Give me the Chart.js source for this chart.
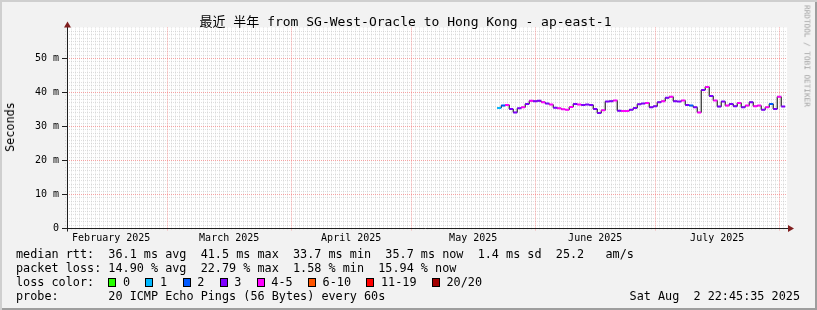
<!DOCTYPE html>
<html lang="zh">
<head>
<meta charset="utf-8">
<title>最近 半年 from SG-West-Oracle to Hong Kong - ap-east-1</title>
<script src="https://cdn.jsdelivr.net/npm/chart.js@4.4.1/dist/chart.umd.min.js"></script>
<style>
  body { margin: 0; background: #fff; }
  #frame {
    position: relative; width: 817px; height: 310px; overflow: hidden;
    background: #f2f2f2; color: #000;
    box-shadow: inset 2px 2px 0 #cfcfcf, inset -2px -2px 0 #9e9e9e;
    font-family: "DejaVu Sans Mono", monospace;
  }
  #chart { position: absolute; left: 0; top: 0; }
  .title {
    position: absolute; left: -3px; top: 14px; width: 817px; text-align: center;
    font: 13px/16px "DejaVu Sans Mono", "Noto Sans CJK SC", monospace; white-space: pre;
  }
  .vlabel {
    position: absolute; left: 10px; top: 127px; white-space: pre;
    font-size: 11.8px; line-height: 14px;
    transform: translate(-50%, -50%) rotate(-90deg);
  }
  .mark {
    position: absolute; left: 807px; top: 56px; white-space: pre; color: #a2a2a2;
    font-size: 7.7px; line-height: 9px;
    transform: translate(-50%, -50%) rotate(90deg);
  }
  .leg {
    position: absolute; left: 16px; white-space: pre;
    font-size: 11.8px; line-height: 14px;
  }
  .box {
    display: inline-block; width: 8px; height: 9px; box-sizing: border-box;
    border: 1px solid #000; vertical-align: -1px; margin-right: 6.6px;
  }
  .bin { padding-right: 15.4px; }
  .stamp { position: absolute; right: 17px; top: 289px; white-space: pre; font-size: 11.8px; line-height: 14px; }
</style>
</head>
<body>
<div id="frame">
  <canvas id="chart" width="817" height="310"></canvas>
  <div class="title">最近 半年 from SG-West-Oracle to Hong Kong - ap-east-1</div>
  <div class="vlabel">Seconds</div>
  <div class="mark">RRDTOOL / TOBI OETIKER</div>
  <div class="leg" style="top:247px">median rtt:  36.1 ms avg  41.5 ms max  33.7 ms min  35.7 ms now  1.4 ms sd  25.2   am/s</div>
  <div class="leg" style="top:261px">packet loss: 14.90 % avg  22.79 % max  1.58 % min  15.94 % now</div>
  <div class="leg" id="losslegend" style="top:275px">loss color:  </div>
  <div class="leg" style="top:289px">probe:       20 ICMP Echo Pings (56 Bytes) every 60s</div>
  <div class="stamp">Sat Aug  2 22:45:35 2025</div>
</div>
<script>
// graph window: last 180 days up to the render time
const rangeStart = '2025-02-03T22:45:35';
const rangeEnd = '2025-08-02T22:45:35';

const monthStarts = ['2025-02-01', '2025-03-01', '2025-04-01', '2025-05-01', '2025-06-01', '2025-07-01', '2025-08-01'];
const monthLabels = ['February 2025', 'March 2025', 'April 2025', 'May 2025', 'June 2025', 'July 2025'];

const yTicks = [0, 10, 20, 30, 40, 50];
const yMax = 59;

// median rtt (ms), one step per day starting at seriesStart
const seriesStart = '2025-05-22T12:00:00';
const medianMs = [
  35.3, 36.0, 36.2, 35.0, 34.0, 35.2, 35.5, 36.5, 37.4, 37.3,
  37.4, 37.0, 36.6, 36.3, 35.4, 35.2, 34.9, 34.8, 35.6, 36.5,
  36.3, 36.2, 36.3, 36.2, 35.0, 33.8, 34.6, 37.2, 37.3, 37.5,
  34.5, 34.4, 34.4, 34.8, 35.3, 36.4, 36.6, 36.8, 35.5, 35.8,
  37.0, 37.3, 38.3, 38.6, 37.3, 37.2, 37.5, 36.2, 36.0, 35.5,
  34.0, 40.6, 41.5, 38.8, 37.5, 35.7, 37.2, 36.0, 36.5, 35.8,
  36.8, 35.5, 36.0, 37.0, 35.8, 36.0, 34.8, 35.5, 36.5, 35.0,
  38.6, 35.7
];
// lost pings out of 20 for each step
const lossPings = [
  1, 2, 4, 3, 3, 3, 4, 3, 4, 3,
  3, 4, 3, 4, 3, 4, 4, 4, 4, 3,
  4, 3, 3, 3, 3, 3, 4, 3, 3, 4,
  3, 4, 4, 3, 3, 3, 3, 4, 3, 3,
  3, 4, 3, 4, 3, 3, 4, 3, 2, 3,
  4, 3, 4, 3, 4, 3, 3, 4, 3, 3,
  4, 3, 4, 3, 4, 4, 3, 4, 2, 3,
  4, 3
];

const lossBins = ['0', '1', '2', '3', '4-5', '6-10', '11-19', '20/20'];
const lossBinMax = [0, 1, 2, 3, 5, 10, 19, 20];
const lossColors = ['#26ff00', '#00b8ff', '#0059ff', '#7e00ff', '#ff00ff', '#ff5500', '#ff0000', '#a10000'];

const DAY = 86400000;
const t0 = Date.parse('2025-02-01T00:00:00Z');
function day(s) { return (Date.parse(s + (s.length > 10 ? 'Z' : 'T00:00:00Z')) - t0) / DAY; }
function lossColor(n) {
  for (let i = 0; i < lossBinMax.length; i++) if (n <= lossBinMax[i]) return lossColors[i];
  return lossColors[lossColors.length - 1];
}

// legend boxes
const ll = document.getElementById('losslegend');
lossBins.forEach((b, i) => {
  const box = document.createElement('span');
  box.className = 'box';
  box.style.background = lossColors[i];
  const t = document.createElement('span');
  t.className = 'bin';
  t.textContent = b;
  ll.appendChild(box);
  ll.appendChild(t);
});

const xMin = day(rangeStart), xMax = day(rangeEnd);
const monthDays = monthStarts.map(day);
const monthMids = monthLabels.map((_, i) => (monthDays[i] + monthDays[i + 1]) / 2);
const s0 = day(seriesStart);

const stepLine = medianMs.map((v, i) => ({ x: s0 + i, y: v }));
const stepMarks = medianMs.map((v, i) => ({ x: s0 + i + 0.5, y: v }));

const rrdGrid = {
  id: 'rrdGrid',
  beforeDraw(chart) {
    const { ctx, chartArea: a } = chart;
    ctx.save();
    ctx.fillStyle = '#fff';
    ctx.fillRect(a.left, a.top, a.right - a.left, a.bottom - a.top);
    ctx.restore();
  },
  beforeDatasetsDraw(chart) {
    const { ctx, chartArea: a, scales: { x, y } } = chart;
    const seg = (x1, y1, x2, y2) => { ctx.beginPath(); ctx.moveTo(x1, y1); ctx.lineTo(x2, y2); ctx.stroke(); };
    ctx.save();
    ctx.lineWidth = 1;
    ctx.setLineDash([1, 1]);
    // minor grid: every day, every ms
    ctx.strokeStyle = 'rgba(143,143,143,0.28)';
    for (let d = Math.ceil(xMin); d <= xMax; d++) {
      if (monthDays.includes(d)) continue;
      const px = Math.round(x.getPixelForValue(d)) + 0.5;
      seg(px, a.top, px, a.bottom + 2);
    }
    for (let v = 1; v < yMax; v++) {
      if (yTicks.includes(v)) continue;
      const py = Math.round(y.getPixelForValue(v)) + 0.5;
      seg(a.left - 2, py, a.right, py);
    }
    // major grid
    ctx.strokeStyle = 'rgba(240,90,90,0.55)';
    monthDays.forEach(d => {
      if (d < xMin || d > xMax) return;
      const px = Math.round(x.getPixelForValue(d)) + 0.5;
      seg(px, a.top, px, a.bottom + 3);
    });
    yTicks.forEach(v => {
      if (v === 0) return;
      const py = Math.round(y.getPixelForValue(v)) + 0.5;
      seg(a.left, py, a.right, py);
    });
    ctx.setLineDash([]);
    ctx.strokeStyle = '#1f1f1f';
    yTicks.forEach(v => {
      const py = Math.round(y.getPixelForValue(v)) + 0.5;
      seg(a.left - 5, py, a.left, py);
    });
    ctx.restore();
  },
  afterDatasetsDraw(chart) {
    const { ctx, chartArea: a } = chart;
    const ax = Math.round(a.left) + 0.5, ay = Math.round(a.bottom) + 0.5;
    ctx.save();
    ctx.strokeStyle = '#1f1f1f';
    ctx.lineWidth = 1;
    ctx.beginPath();
    ctx.moveTo(ax, ay + 3); ctx.lineTo(ax, a.top - 1);
    ctx.moveTo(ax - 5, ay); ctx.lineTo(a.right + 1, ay);
    ctx.stroke();
    ctx.fillStyle = '#801f1f';
    ctx.beginPath();
    ctx.moveTo(ax - 3.5, a.top); ctx.lineTo(ax + 3.5, a.top); ctx.lineTo(ax, a.top - 6); ctx.closePath();
    ctx.fill();
    ctx.beginPath();
    ctx.moveTo(a.right + 1, ay - 3.5); ctx.lineTo(a.right + 1, ay + 3.5); ctx.lineTo(a.right + 7, ay); ctx.closePath();
    ctx.fill();
    ctx.restore();
  }
};

new Chart(document.getElementById('chart'), {
  type: 'line',
  data: {
    datasets: [
      {
        data: stepMarks,
        showLine: false,
        pointStyle: 'line',
        pointRadius: 2,
        pointBorderWidth: 2,
        pointBorderColor: lossPings.map(lossColor),
        order: 0
      },
      {
        data: stepLine,
        stepped: 'before',
        borderColor: '#000',
        borderWidth: 1,
        pointRadius: 0,
        order: 1
      }
    ]
  },
  options: {
    responsive: false,
    animation: false,
    devicePixelRatio: 1,
    layout: { padding: { left: 0, top: 27.4, right: 30, bottom: 62 } },
    plugins: { legend: { display: false }, tooltip: { enabled: false }, title: { display: false } },
    scales: {
      x: {
        type: 'linear',
        min: xMin,
        max: xMax,
        grid: { display: false, drawTicks: false },
        border: { display: false },
        afterBuildTicks: s => { s.ticks = monthMids.map(v => ({ value: v })); },
        afterFit: s => { s.height = 20; s.paddingLeft = 0; s.paddingRight = 0; },
        ticks: {
          autoSkip: false, maxRotation: 0, padding: 4, color: '#000',
          font: { family: 'DejaVu Sans Mono', size: 10 },
          callback: (v, i) => monthLabels[i]
        }
      },
      y: {
        min: 0,
        max: yMax,
        grid: { display: false, drawTicks: false },
        border: { display: false },
        afterBuildTicks: s => { s.ticks = yTicks.map(v => ({ value: v })); },
        afterFit: s => { s.width = 67; s.paddingTop = 0; s.paddingBottom = 0; },
        ticks: {
          padding: 8, color: '#000',
          font: { family: 'DejaVu Sans Mono', size: 10 },
          callback: v => (v === 0 ? '0' : v + ' m')
        }
      }
    }
  },
  plugins: [rrdGrid]
});
</script>
</body>
</html>
